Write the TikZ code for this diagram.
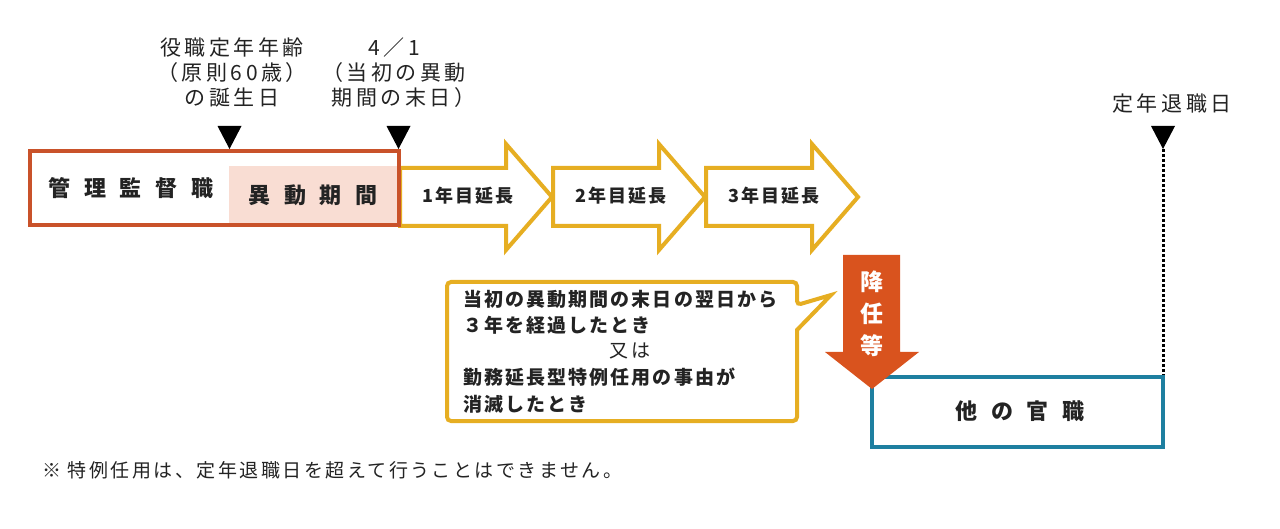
\documentclass[tikz,border=0pt]{standalone}
\usepackage{fontspec}
\newfontfamily\jpl{Noto Sans CJK JP}[LetterSpace=17]
\newfontfamily\jpn{Noto Sans CJK JP}[LetterSpace=13]
\newfontfamily\jpm{Noto Sans CJK JP}[LetterSpace=11]
\newfontfamily\jpw{Noto Sans CJK JP}[LetterSpace=63]
\newfontfamily\jpv{Noto Sans CJK JP}
\definecolor{orgbox}{RGB}{201,82,42}
\definecolor{pinkfill}{RGB}{249,221,211}
\definecolor{yel}{RGB}{230,174,34}
\definecolor{orgarrow}{RGB}{217,83,30}
\definecolor{bluebox}{RGB}{30,127,160}
\definecolor{txt}{RGB}{35,35,35}
\begin{document}
\begin{tikzpicture}[x=1pt,y=-1pt,
  lbl/.style={font=\jpl\fontsize{21}{25}\selectfont, align=center, text=txt, inner sep=0pt},
  marker/.style={fill=black},
  bigbold/.style={font=\jpw\bfseries\fontsize{22}{26}\selectfont, text=txt, inner sep=0pt},
  arrtext/.style={font=\jpm\bfseries\fontsize{18}{20}\selectfont, text=txt, inner sep=0pt},
  calltext/.style={font=\jpm\bfseries\fontsize{19}{26.5}\selectfont, text=txt, align=left, inner sep=0pt, anchor=base west},
  yarrow/.style={draw=yel, line width=4pt, fill=white, line join=miter},
  note/.style={font=\jpn\fontsize{19}{22}\selectfont, text=txt, inner sep=0pt, anchor=west}]
\useasboundingbox (0,0) rectangle (1280,529);
% extension arrows
\foreach \x/\t [count=\i] in {400/1,553/2,706/3}{
  \draw[yarrow] (\x,168) -- ++(106,0) -- ++(0,-24) -- ++(46,53) -- ++(-46,53) -- ++(0,-24) -- ++(-106,0) -- cycle;
  \node[arrtext] (ext\i) at (\x+68,196) {\t 年目延長};
}
% management box
\fill[pinkfill] (229,166) rectangle (397,223);
\draw[orgbox, line width=4pt] (30,151) rectangle (399,225);
\node[bigbold] (kanri) at (131,188) {管理監督職};
\node[bigbold] (ido) at (313,195) {異動期間};
% markers and labels
\node[lbl] (lab1) at (232,73) {役職定年年齢\\（原則60歳）\\の誕生日};
\node[lbl] (lab2) at (394,73) {4／1\\（当初の異動\hspace*{14pt}\\\hspace*{19pt}期間の末日）};
\node[lbl] (lab3) at (1172,104) {定年退職日};
\coordinate (m1) at (229.5,149);
\coordinate (m2) at (398.5,149);
\coordinate (m3) at (1163,149);
\foreach \m in {m1,m2,m3}{
  \fill[marker] (\m) -- ++(-12,-23) -- ++(24,0) -- cycle;
}
% blue box
\draw[bluebox, line width=4pt] (872,377) rectangle (1163,447);
\node[bigbold] (other) at (1020,411) {他の官職};
\coordinate (dotend) at (1163,375);
\draw[black, line width=3pt, dash pattern=on 3pt off 2pt] (m3) -- (dotend);
% demotion arrow
\fill[orgarrow] (843,255) -- (900,255) -- (900,352) -- (919,352) -- (872,389) -- (825,352) -- (843,352) -- cycle;
\node[font=\jpv\bfseries\fontsize{23}{32}\selectfont, text=white, align=center, inner sep=0pt] (demote) at (872,314) {降\\任\\等};
% callout
\draw[yel, line width=4pt, fill=white, line join=miter]
  (620,282) [rounded corners=4pt] -- (797,282) -- (797,305) [sharp corners] -- (831,295) -- (797,330) [rounded corners=4pt] -- (797,421) -- (447,421) -- (447,282) -- cycle;
\node[calltext] (c1) at (463,333) {当初の異動期間の末日の翌日から\\３年を経過したとき};
\node[font=\jpm\fontsize{19}{20}\selectfont, text=txt, inner sep=0pt] (mata) at (630,351) {又は};
\node[calltext] (c2) at (463,411) {勤務延長型特例任用の事由が\\消滅したとき};
% note
\node[note] (nt) at (42,470) {※ 特例任用は、定年退職日を超えて行うことはできません。};
\end{tikzpicture}
\end{document}
